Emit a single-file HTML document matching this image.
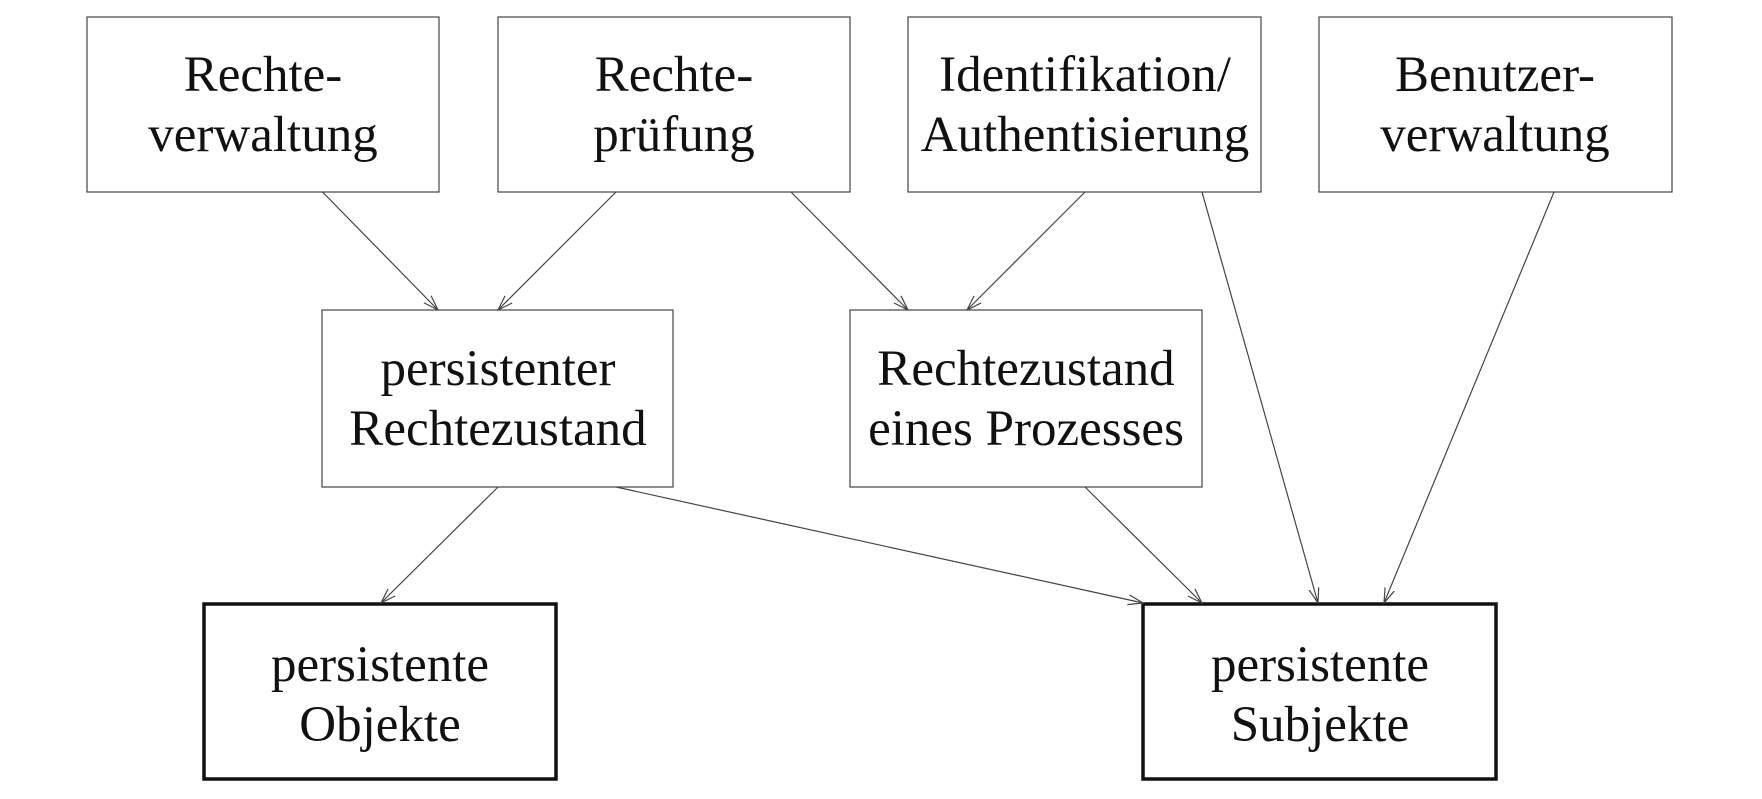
<!DOCTYPE html>
<html><head><meta charset="utf-8"><style>
html,body{margin:0;padding:0;background:#fff;}
svg text{font-family:"Liberation Serif","DejaVu Serif",serif;font-size:51px;fill:#111;text-anchor:middle;}
</style></head><body>
<svg width="1762" height="794" viewBox="0 0 1762 794" xmlns="http://www.w3.org/2000/svg">
<defs><marker id="a" markerWidth="16" markerHeight="12" refX="15" refY="6" orient="auto" markerUnits="userSpaceOnUse">
<path d="M0,1 L15,6 L0,11" fill="none" stroke="#444" stroke-width="1.2"/></marker></defs>
<g fill="none" stroke="#444" stroke-width="1.2">
<rect x="87" y="17" width="352" height="175"/>
<rect x="498" y="17" width="352" height="175"/>
<rect x="908" y="17" width="353" height="175"/>
<rect x="1319" y="17" width="353" height="175"/>
<rect x="322" y="310" width="351" height="177"/>
<rect x="850" y="310" width="352" height="177"/>
</g>
<g fill="none" stroke="#111" stroke-width="3.5">
<rect x="204" y="604" width="352" height="175"/>
<rect x="1143" y="604" width="353" height="175"/>
</g>
<g stroke="#444" stroke-width="1.2" marker-end="url(#a)">
<line x1="322.5" y1="192" x2="438" y2="310"/>
<line x1="616" y1="192" x2="498" y2="310"/>
<line x1="791" y1="192" x2="908" y2="310"/>
<line x1="1085" y1="192" x2="967" y2="310"/>
<line x1="1202" y1="192" x2="1318" y2="603"/>
<line x1="1554" y1="192" x2="1384" y2="603"/>
<line x1="498" y1="487" x2="381" y2="603"/>
<line x1="616" y1="487" x2="1143" y2="603"/>
<line x1="1085" y1="487" x2="1202" y2="603"/>
</g>
<text x="263" y="91">Rechte-</text><text x="263" y="151">verwaltung</text>
<text x="674" y="91">Rechte-</text><text x="674" y="151">prüfung</text>
<text x="1085" y="91">Identifikation/</text><text x="1085" y="151">Authentisierung</text>
<text x="1495" y="91">Benutzer-</text><text x="1495" y="151">verwaltung</text>
<text x="498" y="385">persistenter</text><text x="498" y="445">Rechtezustand</text>
<text x="1026" y="385">Rechtezustand</text><text x="1026" y="445">eines Prozesses</text>
<text x="380" y="681">persistente</text><text x="380" y="741">Objekte</text>
<text x="1320" y="681">persistente</text><text x="1320" y="741">Subjekte</text>
</svg>
</body></html>
